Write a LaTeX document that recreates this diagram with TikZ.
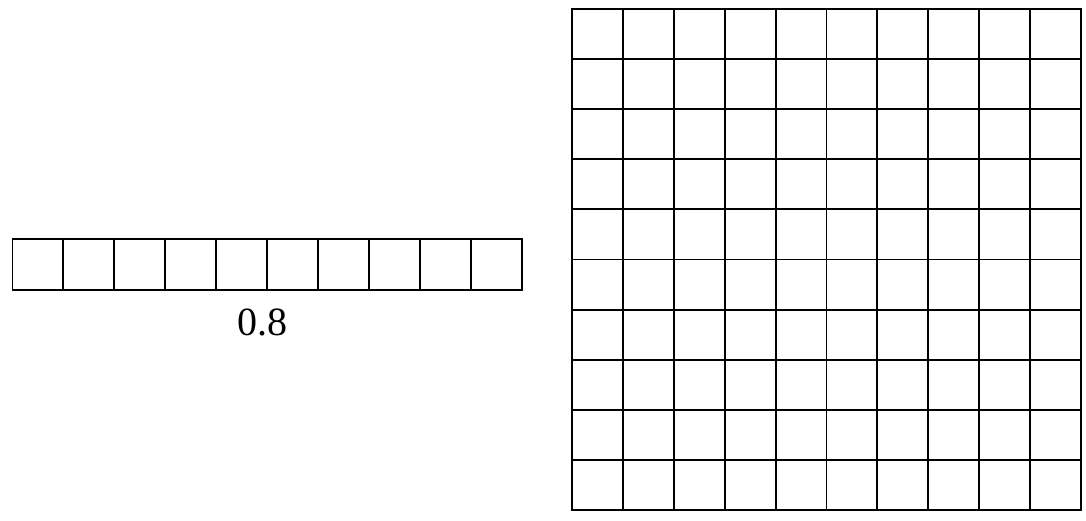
\documentclass[tikz,border=0pt]{standalone}
\usepackage{fontspec}
\setmainfont{Liberation Serif}
\begin{document}
\begin{tikzpicture}[x=1pt,y=-1pt,line width=1.9pt,font=\fontsize{40}{48}\selectfont]
\useasboundingbox (0,0) rectangle (1086,520);

\begin{scope}[shift={(12.5,239.3)}]
\coordinate (so) at (0,0);
\foreach \i in {0,...,9}
  \draw (50.92*\i,0) rectangle ++(50.92,51);
\node (lab) at (250,83){0.8};
\end{scope}

\begin{scope}[shift={(572.3,8.7)}]
\coordinate (go) at (0,0);
\foreach \i in {0,...,9}
  \foreach \j in {0,...,9}
    \draw (50.84*\i,50.16*\j) rectangle ++(50.84,50.16);
\end{scope}

\end{tikzpicture}
\end{document}
